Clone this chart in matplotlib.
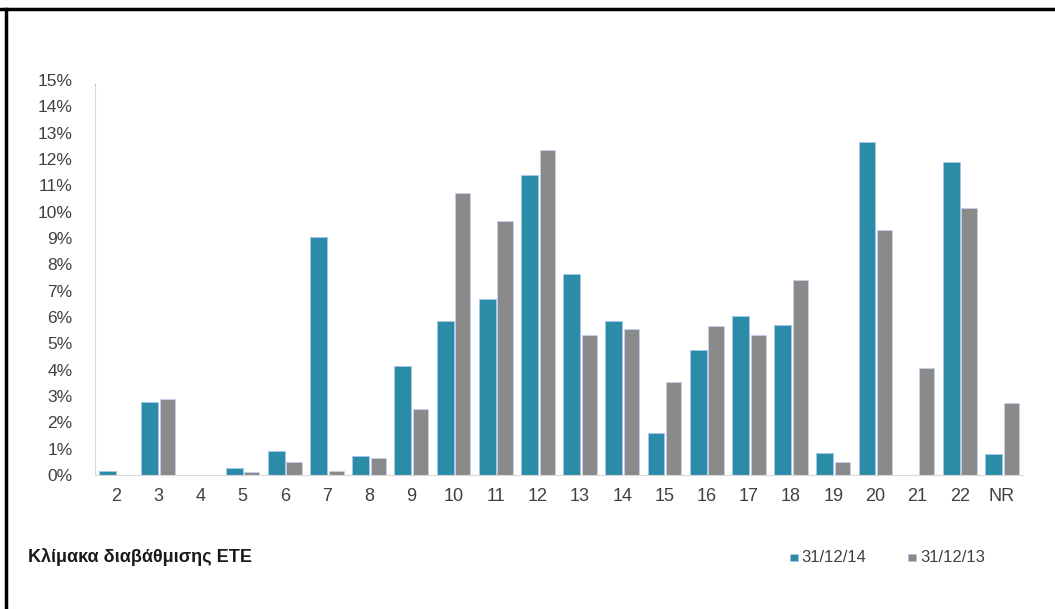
import matplotlib.pyplot as plt
import numpy as np
from matplotlib.patches import Rectangle
from matplotlib.lines import Line2D

# rating scale categories and shares (%)
categories = ['2', '3', '4', '5', '6', '7', '8', '9', '10', '11', '12',
              '13', '14', '15', '16', '17', '18', '19', '20', '21', '22', 'NR']
share_2014 = [0.15, 2.78, 0.0, 0.25, 0.9, 9.05, 0.72, 4.15, 5.85, 6.7, 11.4,
              7.65, 5.85, 1.6, 4.75, 6.05, 5.7, 0.85, 12.65, 0.0, 11.9, 0.8]
share_2013 = [0.0, 2.9, 0.0, 0.1, 0.5, 0.15, 0.65, 2.5, 10.7, 9.65, 12.35,
              5.3, 5.55, 3.55, 5.65, 5.3, 7.4, 0.5, 9.3, 4.05, 10.15, 2.75]
labels = ['31/12/14', '31/12/13']

blue = '#2b8ca8'
grey = '#8a8a8a'
txt = '#404040'

plt.rcParams['font.family'] = ['Liberation Sans', 'DejaVu Sans']

fig = plt.figure(figsize=(10.55, 6.09), dpi=100)
ax = fig.add_axes([0.0900, 0.2200, 0.8797, 0.6486])

x = np.arange(len(categories))
ax.bar(x - 0.20, share_2014, width=0.40, color=blue, edgecolor='#a9c6ee', linewidth=0.6)
ax.bar(x + 0.22, share_2013, width=0.36, color=grey, edgecolor='#c4d2ee', linewidth=0.6)

ax.set_xlim(-0.5, len(categories) - 0.5)
ax.set_ylim(0, 15)
ax.set_yticks(range(0, 16))
ax.set_yticklabels([f'{v}%' for v in range(0, 16)])
ax.set_xticks(x)
ax.set_xticklabels(categories)
ax.tick_params(axis='y', length=0, pad=16, labelsize=12.5, labelcolor=txt)
ax.tick_params(axis='x', length=0, pad=9, labelsize=13, labelcolor=txt)

for s in ['top', 'right']:
    ax.spines[s].set_visible(False)
ax.spines['left'].set_color('#d9d9d9')
ax.spines['bottom'].set_color('#d9d9d9')
ax.spines['left'].set_bounds(0, 14.8)
ax.axvline(-0.5, ymin=0.92, ymax=0.987, color='#7f7f7f', linewidth=1.2)

# bottom caption and legend
fig.text(0.027, 0.085, 'Κλίμακα διαβάθμισης ETE', fontsize=13, fontweight='bold',
         color='#1a1a1a', va='center', ha='left')
colors = [blue, grey]
for xpos, lab, c in zip([0.749, 0.861], labels, colors):
    fig.patches.append(Rectangle((xpos, 0.078), 0.0075, 0.013, transform=fig.transFigure,
                                 facecolor=c, edgecolor='#a9c6ee', linewidth=0.5))
    fig.text(xpos + 0.011, 0.085, lab, fontsize=12, color=txt, va='center', ha='left')

# outer frame (top and left)
fig.add_artist(Line2D([0, 1], [0.9855, 0.9855], transform=fig.transFigure, color='black', linewidth=2.5))
fig.add_artist(Line2D([0.0055, 0.0055], [0, 0.9855], transform=fig.transFigure, color='black', linewidth=2.5))

fig.savefig('out.png', dpi=100)
